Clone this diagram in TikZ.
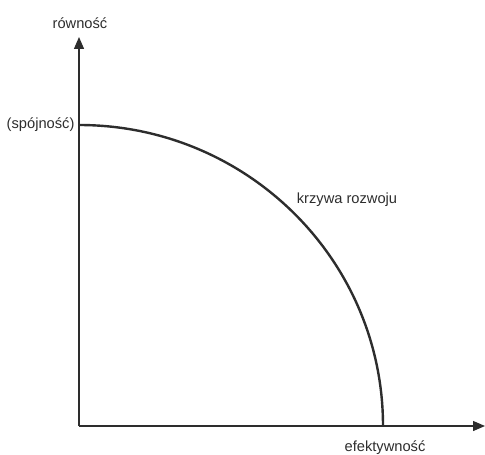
\documentclass[tikz,border=0pt]{standalone}
\usepackage{fontspec}
\setmainfont{Liberation Sans}
\definecolor{AxisGray}{RGB}{45,45,45}
\usetikzlibrary{arrows.meta, positioning}
\tikzset{
  axis/.style={line width=1pt, draw=AxisGray, -{Triangle[length=9pt, width=7.5pt]}},
  curve/.style={line width=1.8pt, draw=AxisGray},
  lbl/.style={font=\fontsize{11}{13}\selectfont, text=AxisGray, inner sep=1pt}
}

\begin{document}
\begin{tikzpicture}[x=0.75pt, y=0.75pt]
  \useasboundingbox (0,0) rectangle (485,454);
  \coordinate (orig) at (79,28);
  \coordinate (ytip) at (79,417);
  \coordinate (xtip) at (485,28);
  \coordinate (ctop) at (79,329);
  \coordinate (cend) at (383,28);
  \node[lbl] (rown) at (80,431) {równość};
  \node[lbl, anchor=east] (spoj) at (76,329) {(spójność)};
  \node[lbl] (krzy) at (347,254) {krzywa rozwoju};
  \node[lbl] (efek) at (385,6) {efektywność};
  \draw[axis] (orig) -- (ytip);
  \draw[axis] (orig) -- (xtip);
  \draw[curve] (ctop) .. controls +(168,0) and +(0,166) .. (cend);
\end{tikzpicture}
\end{document}
